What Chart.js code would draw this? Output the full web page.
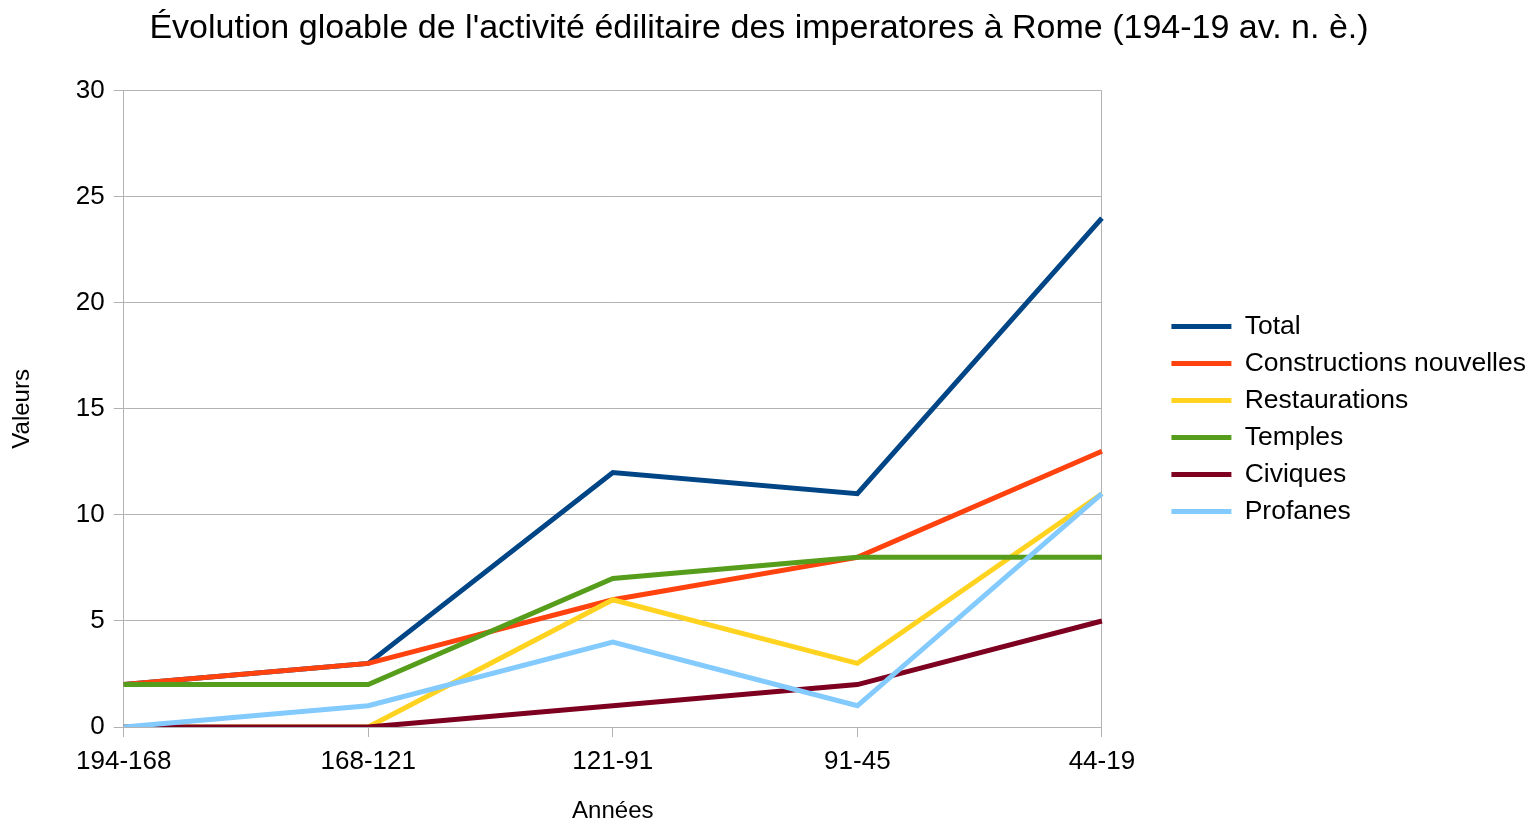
<!DOCTYPE html>
<html>
<head>
<meta charset="utf-8">
<script src="https://cdn.jsdelivr.net/npm/chart.js@4"></script>
<style>
  html, body { margin: 0; padding: 0; background: #fff; }
  #wrap { width: 1537px; height: 826px; }
</style>
</head>
<body>
<div id="wrap"><canvas id="myLineChart"></canvas></div>
<script>
// Données
const periodes = ['194-168', '168-121', '121-91', '91-45', '44-19'];
const total = [2, 3, 12, 11, 24];
const constructions = [2, 3, 6, 8, 13];
const restaurations = [0, 0, 6, 3, 11];
const temples = [2, 2, 7, 8, 8];
const civiques = [0, 0, 1, 2, 5];
const profanes = [0, 1, 4, 1, 11];

const series = [
    { label: 'Total', data: total, color: '#004586' },
    { label: 'Constructions nouvelles', data: constructions, color: '#ff420e' },
    { label: 'Restaurations', data: restaurations, color: '#ffd320' },
    { label: 'Temples', data: temples, color: '#579d1c' },
    { label: 'Civiques', data: civiques, color: '#7e0021' },
    { label: 'Profanes', data: profanes, color: '#83caff' }
];

const gridColor = '#b3b3b3';
const fontFamily = '"Liberation Sans", Arial, sans-serif';

// décalages pour coller à la mise en page d'origine
const legendDecalageX = 59;
const legendDecalageY = 4;
const titreDecalage = 13;

// les dernières séries sont dessinées au-dessus
const datasets = series.map((s, i) => ({
    label: s.label,
    data: s.data,
    borderColor: s.color,
    backgroundColor: s.color,
    borderWidth: 5,
    pointRadius: 0,
    tension: 0,
    order: series.length - i
}));

// Laisse un espace entre le graphique et la légende, recentre le titre
const ajusterPositions = {
    id: 'ajusterPositions',
    beforeLayout(chart) {
        const legend = chart.legend;
        if (legend && !legend._elargie) {
            const fitOrig = legend.fit;
            legend.fit = function() {
                fitOrig.call(this);
                this.width += legendDecalageX;
            };
            legend._elargie = true;
        }
    },
    afterLayout(chart) {
        const legend = chart.legend;
        if (legend) {
            legend.left += legendDecalageX;
            legend.top += legendDecalageY;
            legend.bottom += legendDecalageY;
        }
        const titre = chart.titleBlock;
        if (titre) {
            titre.left -= titreDecalage;
            titre.right -= titreDecalage;
        }
    }
};

new Chart(document.getElementById('myLineChart'), {
    type: 'line',
    data: { labels: periodes, datasets: datasets },
    plugins: [ajusterPositions],
    options: {
        responsive: true,
        maintainAspectRatio: false,
        animation: false,
        layout: { padding: { top: 4, right: 1, bottom: 0, left: 8 } },
        plugins: {
            title: {
                display: true,
                text: "Évolution gloable de l'activité édilitaire des imperatores à Rome (194-19 av. n. è.)",
                color: '#000',
                font: { family: fontFamily, size: 34, weight: 'normal' },
                padding: { top: 4, bottom: 42 }
            },
            legend: {
                position: 'right',
                labels: {
                    color: '#000',
                    font: { family: fontFamily, size: 26.5 },
                    boxWidth: 60,
                    boxHeight: 5,
                    padding: 10.5,
                    sort: (a, b) => a.datasetIndex - b.datasetIndex,
                    generateLabels: chart => {
                        const items = Chart.defaults.plugins.legend.labels.generateLabels(chart);
                        items.forEach(item => { item.lineWidth = 0; });
                        return items;
                    }
                }
            },
            tooltip: { enabled: false }
        },
        scales: {
            x: {
                offset: false,
                grid: {
                    color: ctx => (ctx.index === periodes.length - 1 ? gridColor : 'transparent'),
                    tickColor: gridColor,
                    tickLength: 10
                },
                border: { color: gridColor },
                ticks: {
                    color: '#000',
                    font: { family: fontFamily, size: 26 },
                    maxRotation: 0,
                    padding: 9
                },
                title: {
                    display: true,
                    text: 'Années',
                    color: '#000',
                    font: { family: fontFamily, size: 24 },
                    padding: { top: 11, bottom: 0 }
                }
            },
            y: {
                min: 0,
                max: 30,
                grid: { color: gridColor, tickColor: gridColor, tickLength: 10 },
                border: { color: gridColor },
                ticks: {
                    stepSize: 5,
                    color: '#000',
                    font: { family: fontFamily, size: 26 },
                    padding: 9
                },
                title: {
                    display: true,
                    text: 'Valeurs',
                    color: '#000',
                    font: { family: fontFamily, size: 24 },
                    padding: { top: 0, bottom: 30 }
                }
            }
        }
    }
});
</script>
</body>
</html>
